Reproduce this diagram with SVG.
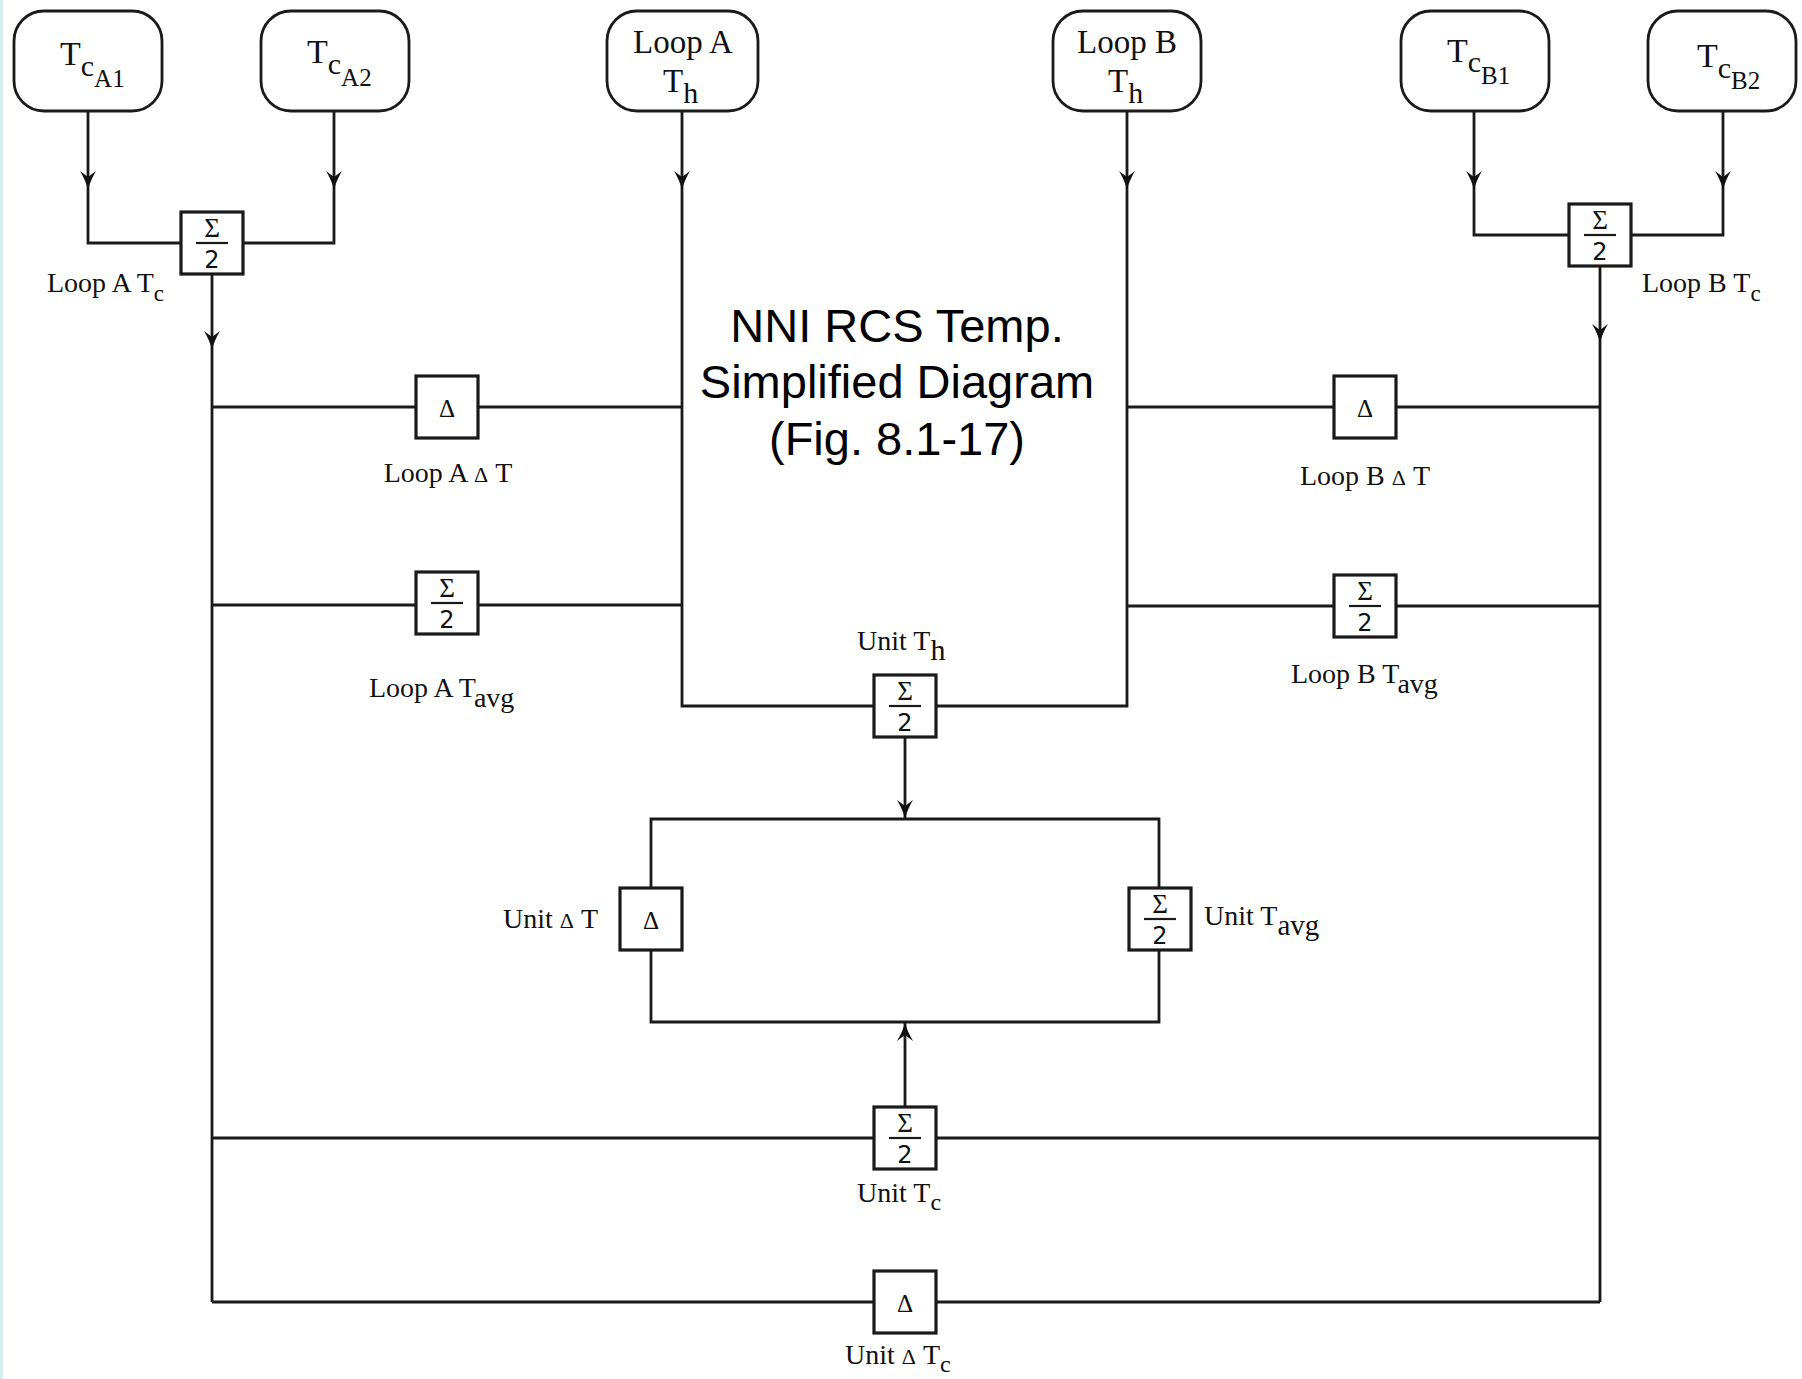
<svg xmlns="http://www.w3.org/2000/svg" xmlns:xlink="http://www.w3.org/1999/xlink" width="1802" height="1379" viewBox="0 0 1802 1379">
<style>
.ln{fill:none;stroke:#1a1a1a;stroke-width:2.8;stroke-linejoin:miter}
.bx{fill:#fff;stroke:#1a1a1a;stroke-width:3.2}
.rb{fill:#fff;stroke:#1a1a1a;stroke-width:2.8}
.sf{font-family:"Liberation Serif","DejaVu Serif",serif;fill:#111}
.lb{font-size:28px}
.sg{font-family:"Liberation Serif","DejaVu Serif",serif;font-size:27px;fill:#111;text-anchor:middle}
.two{font-family:"DejaVu Sans","Liberation Sans",sans-serif;font-size:24px;fill:#111;text-anchor:middle}
.dl{font-family:"Liberation Serif","DejaVu Serif",serif;font-size:25px;fill:#111;text-anchor:middle}
.fb{stroke:#1a1a1a;stroke-width:2.2}
.ah{fill:#111}
.ttl{font-family:"Liberation Sans",Arial,sans-serif;font-size:47px;fill:#000;text-anchor:middle}
</style>
<defs>
<path id="ahd" class="ah" d="M0,0 C-1.5,-7 -4.5,-13 -8,-19 L0,-13 L8,-19 C4.5,-13 1.5,-7 0,0 Z"/>
<g id="sig">
<rect class="bx" x="0" y="0" width="62" height="62"/>
<text class="sg" x="31" y="25">Σ</text>
<line class="fb" x1="15" y1="31" x2="47" y2="31"/>
<text class="two" x="31" y="56">2</text>
</g>
<g id="del">
<rect class="bx" x="0" y="0" width="62" height="62"/>
<text class="dl" x="31" y="41">Δ</text>
</g>
</defs>
<rect x="0" y="0" width="1802" height="1379" fill="#fff"/>
<rect x="0" y="0" width="3" height="1379" fill="#d6ebf2"/>

<g id="connectors">
<path class="ln" d="M88,111 V243 H181"/>
<path class="ln" d="M334,111 V243 H243"/>
<path class="ln" d="M212,274 V1302"/>
<path class="ln" d="M1474,111 V235 H1568"/>
<path class="ln" d="M1723,111 V235 H1632"/>
<path class="ln" d="M1600,266 V1302"/>
<path class="ln" d="M682,111 V706 H874"/>
<path class="ln" d="M1127,111 V706 H936"/>
<path class="ln" d="M212,407 H416 M478,407 H682"/>
<path class="ln" d="M212,605 H416 M478,605 H682"/>
<path class="ln" d="M1127,407 H1334 M1396,407 H1600"/>
<path class="ln" d="M1127,606 H1334 M1396,606 H1600"/>
<path class="ln" d="M905,737 V819"/>
<path class="ln" d="M651,888 V819 H1159 V888"/>
<path class="ln" d="M651,951 V1022 H1159 V951"/>
<path class="ln" d="M905,1107 V1022"/>
<path class="ln" d="M212,1138 H874 M936,1138 H1600"/>
<path class="ln" d="M212,1302 H874 M936,1302 H1600"/>
<use xlink:href="#ahd" href="#ahd" transform="translate(88,190)"/>
<use xlink:href="#ahd" href="#ahd" transform="translate(334,190)"/>
<use xlink:href="#ahd" href="#ahd" transform="translate(682,190)"/>
<use xlink:href="#ahd" href="#ahd" transform="translate(1127,190)"/>
<use xlink:href="#ahd" href="#ahd" transform="translate(1474,190)"/>
<use xlink:href="#ahd" href="#ahd" transform="translate(1723,190)"/>
<use xlink:href="#ahd" href="#ahd" transform="translate(212,350)"/>
<use xlink:href="#ahd" href="#ahd" transform="translate(1600,343)"/>
<use xlink:href="#ahd" href="#ahd" transform="translate(905,819)"/>
<use xlink:href="#ahd" href="#ahd" transform="translate(905,1022) rotate(180)"/>
</g>

<g id="tcA1">
<rect class="rb" x="14" y="11" width="148" height="100" rx="30" ry="30"/>
<text class="sf" x="60" y="65" font-size="34">T<tspan font-size="30" dy="11">c</tspan><tspan font-size="25" dy="11">A1</tspan></text>
</g>
<g id="tcA2">
<rect class="rb" x="261" y="11" width="148" height="100" rx="30" ry="30"/>
<text class="sf" x="307" y="63" font-size="34">T<tspan font-size="30" dy="11">c</tspan><tspan font-size="25" dy="12">A2</tspan></text>
</g>
<g id="loopATh">
<rect class="rb" x="607" y="11" width="151" height="100" rx="30" ry="30"/>
<text class="sf" x="683" y="53" font-size="33" text-anchor="middle">Loop A</text>
<text class="sf" x="663" y="92" font-size="33">T<tspan font-size="30" dy="11">h</tspan></text>
</g>
<g id="loopBTh">
<rect class="rb" x="1053" y="11" width="148" height="100" rx="30" ry="30"/>
<text class="sf" x="1127" y="53" font-size="33" text-anchor="middle">Loop B</text>
<text class="sf" x="1108" y="92" font-size="33">T<tspan font-size="30" dy="11">h</tspan></text>
</g>
<g id="tcB1">
<rect class="rb" x="1401" y="11" width="148" height="100" rx="30" ry="30"/>
<text class="sf" x="1447" y="62" font-size="34">T<tspan font-size="30" dy="10">c</tspan><tspan font-size="25" dy="12">B1</tspan></text>
</g>
<g id="tcB2">
<rect class="rb" x="1648" y="11" width="148" height="100" rx="30" ry="30"/>
<text class="sf" x="1697" y="67" font-size="34">T<tspan font-size="30" dy="11">c</tspan><tspan font-size="25" dy="11">B2</tspan></text>
</g>

<g id="loopATc">
<use xlink:href="#sig" href="#sig" transform="translate(181,212)"/>
<text class="sf lb" x="47" y="292">Loop A T<tspan font-size="23" dy="9">c</tspan></text>
</g>
<g id="loopBTc">
<use xlink:href="#sig" href="#sig" transform="translate(1569,204)"/>
<text class="sf lb" x="1642" y="292">Loop B T<tspan font-size="23" dy="9">c</tspan></text>
</g>

<g id="title">
<text class="ttl" x="897" y="342">NNI RCS Temp.</text>
<text class="ttl" x="897" y="398">Simplified Diagram</text>
<text class="ttl" x="897" y="455">(Fig. 8.1-17)</text>
</g>

<g id="loopADT">
<use xlink:href="#del" href="#del" transform="translate(416,376)"/>
<text class="sf lb" x="448" y="482" text-anchor="middle">Loop A <tspan font-size="22">Δ</tspan> T</text>
</g>
<g id="loopATavg">
<use xlink:href="#sig" href="#sig" transform="translate(416,572)"/>
<text class="sf lb" x="369" y="697">Loop A T<tspan font-size="28" dy="10">avg</tspan></text>
</g>
<g id="loopBDT">
<use xlink:href="#del" href="#del" transform="translate(1334,376)"/>
<text class="sf lb" x="1365" y="485" text-anchor="middle">Loop B <tspan font-size="22">Δ</tspan> T</text>
</g>
<g id="loopBTavg">
<use xlink:href="#sig" href="#sig" transform="translate(1334,575)"/>
<text class="sf lb" x="1291" y="683">Loop B T<tspan font-size="28" dy="10">avg</tspan></text>
</g>

<g id="unitTh">
<use xlink:href="#sig" href="#sig" transform="translate(874,675)"/>
<text class="sf lb" x="857" y="650">Unit T<tspan font-size="30" dy="10">h</tspan></text>
</g>
<g id="unitDT">
<use xlink:href="#del" href="#del" transform="translate(620,888)"/>
<text class="sf lb" x="503" y="928">Unit <tspan font-size="22">Δ</tspan> T</text>
</g>
<g id="unitTavg">
<use xlink:href="#sig" href="#sig" transform="translate(1129,888)"/>
<text class="sf lb" x="1204" y="925">Unit T<tspan font-size="29" dy="10">avg</tspan></text>
</g>
<g id="unitTc">
<use xlink:href="#sig" href="#sig" transform="translate(874,1107)"/>
<text class="sf lb" x="857" y="1202">Unit T<tspan font-size="24" dy="8">c</tspan></text>
</g>
<g id="unitDTc">
<use xlink:href="#del" href="#del" transform="translate(874,1271)"/>
<text class="sf lb" x="845" y="1364">Unit <tspan font-size="22">Δ</tspan> T<tspan font-size="24" dy="8">c</tspan></text>
</g>
</svg>
